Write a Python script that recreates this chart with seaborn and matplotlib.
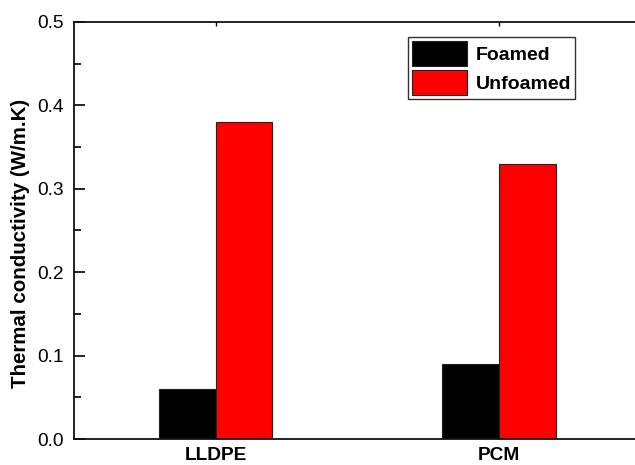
import matplotlib
matplotlib.use("Agg")
import matplotlib.pyplot as plt
import pandas as pd
import seaborn as sns
from matplotlib.ticker import MultipleLocator

materials = ["LLDPE", "PCM"]
states = ["Foamed", "Unfoamed"]
foamed = [0.06, 0.09]
unfoamed = [0.38, 0.33]

df = pd.DataFrame({
    "Material": materials * 2,
    "State": [states[0]] * 2 + [states[1]] * 2,
    "k": foamed + unfoamed,
})

sns.set_style("ticks")
plt.rcParams["font.family"] = ["Liberation Sans", "DejaVu Sans"]
plt.rcParams.update({
    "text.color": "black",
    "axes.labelcolor": "black",
    "xtick.color": "black",
    "ytick.color": "black",
    "xtick.labelcolor": "black",
    "ytick.labelcolor": "black",
})

fig = plt.figure(figsize=(6.35, 4.65), dpi=100)
ax = fig.add_axes([74 / 635, 26 / 465, 566.5 / 635, 417 / 465])

sns.barplot(data=df, x="Material", y="k", hue="State",
            palette=["#000000", "#ff0000"], saturation=1, width=0.4,
            edgecolor="#222222", linewidth=0.8, ax=ax, errorbar=None)

ax.set_xlim(-0.5, 1.5)
ax.set_ylim(0, 0.5)
ax.yaxis.set_major_locator(MultipleLocator(0.1))
ax.yaxis.set_minor_locator(MultipleLocator(0.05))
ax.set_yticklabels([f"{v:.1f}" for v in ax.get_yticks()])

ax.tick_params(axis="y", which="major", direction="in", length=8, width=1.2,
               labelsize=13.8, pad=7.5, colors="black")
ax.tick_params(axis="y", which="minor", direction="in", length=5, width=1.2,
               colors="black")
ax.tick_params(axis="x", direction="in", length=3, width=1, top=True,
               labelsize=13.8, pad=6, colors="black")
for lab in ax.get_xticklabels():
    lab.set_fontweight("bold")

for side in ["left", "bottom", "top", "right"]:
    ax.spines[side].set_visible(True)
    ax.spines[side].set_linewidth(1.3)
    ax.spines[side].set_color("#111111")

ax.set_xlabel("")
ax.set_ylabel("Thermal conductivity (W/m.K)", fontsize=14.8,
              fontweight="bold", color="black")
ax.yaxis.set_label_coords(-0.0770, 0.468)

leg = ax.legend(loc="upper right", bbox_to_anchor=(0.884, 0.964),
                borderaxespad=0, frameon=True, fancybox=False,
                prop={"weight": "bold", "size": 14},
                handlelength=2.8, handleheight=1.6, labelspacing=0.2,
                borderpad=0.2, handletextpad=0.45)
leg.get_frame().set_edgecolor("#000000")
leg.get_frame().set_linewidth(1.0)
for t in leg.get_texts():
    t.set_color("black")

fig.savefig("out.png", dpi=100)
